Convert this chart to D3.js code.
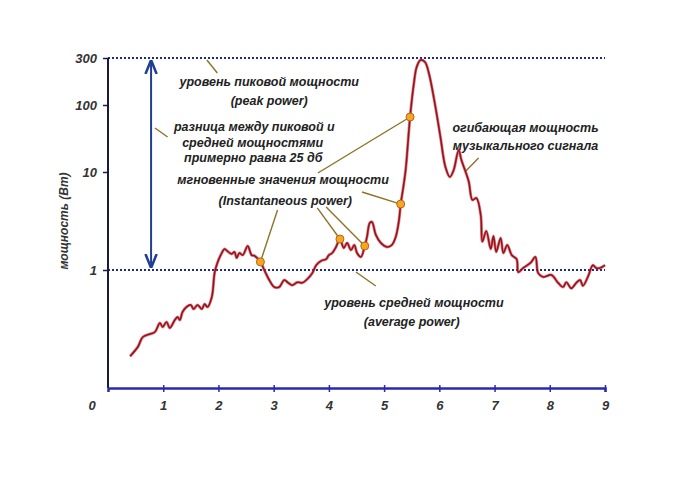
<!DOCTYPE html>
<html><head><meta charset="utf-8">
<script src="https://cdn.jsdelivr.net/npm/d3@7/dist/d3.min.js"></script>
<style>
body{margin:0;background:#fff}
svg{display:block}
text{font-family:"Liberation Sans",Arial,sans-serif;font-style:italic}
</style>
</head><body>
<svg id="c" width="700" height="493"></svg>
<script>
// ---- data ----
const timeVals = [0.40,0.54,0.63,0.76,0.85,0.94,0.99,1.06,1.12,1.21,1.26,1.30,1.35,1.42,1.50,1.55,1.62,1.70,1.75,1.80,1.88,1.93,1.98,2.06,2.11,2.16,2.24,2.29,2.33,2.38,2.44,2.53,2.60,2.65,2.76,2.83,2.92,3.01,3.10,3.19,3.25,3.34,3.43,3.52,3.61,3.70,3.77,3.86,3.95,4.00,4.06,4.13,4.20,4.27,4.33,4.40,4.46,4.51,4.58,4.65,4.69,4.74,4.78,4.85,4.94,5.05,5.14,5.21,5.27,5.30,5.34,5.39,5.47,5.54,5.59,5.66,5.74,5.81,5.93,6.02,6.11,6.19,6.26,6.35,6.40,6.53,6.60,6.67,6.75,6.78,6.85,6.93,6.98,7.03,7.11,7.16,7.23,7.31,7.40,7.43,7.52,7.65,7.74,7.79,7.88,8.03,8.15,8.24,8.30,8.39,8.48,8.55,8.60,8.69,8.78,8.84,8.91,9.00];
const powerVals = [0.132,0.164,0.207,0.222,0.233,0.288,0.262,0.295,0.256,0.309,0.331,0.309,0.373,0.419,0.440,0.400,0.440,0.400,0.450,0.419,0.530,0.932,1.18,1.49,1.64,1.56,1.46,1.53,1.33,1.49,1.42,1.76,1.42,1.40,1.21,1.00,0.79,0.67,0.67,0.79,0.75,0.70,0.75,0.74,0.81,0.93,1.12,1.24,1.29,1.42,1.49,1.72,2.07,1.68,1.89,1.60,1.80,1.49,1.36,1.76,2.17,3.02,3.09,2.28,1.89,1.72,1.80,2.17,3.24,4.71,6.55,10.7,66.2,167,243,286,273,211,93.3,33.3,11.9,8.89,10.7,21.3,15.1,8.09,5.18,5.43,3.64,1.95,2.50,1.64,2.22,1.53,2.12,1.49,1.80,1.42,1.29,0.95,1.05,1.18,1.36,0.93,0.85,0.89,0.74,0.67,0.75,0.65,0.74,0.79,0.69,0.85,1.12,1.05,1.05,1.12];
const instantX = [2.76,4.20,4.65,5.30,5.47];
const instantY = [1.21,2.07,1.76,4.71,66.2];
const xTicks = [1,2,3,4,5,6,7,8,9];
const yTicks = [1,10,100,300];
const peakLevel = 300, avgLevel = 1;

const labels = [
  {t:"уровень пиковой мощности", x:2.92, y:171},
  {t:"(peak power)", x:2.92, y:112},
  {t:"разница между пиковой и", x:2.65, y:47},
  {t:"средней мощностями", x:2.62, y:27.1},
  {t:"примерно равна 25 дб", x:2.63, y:16.2},
  {t:"мгновенные значения мощности", x:3.17, y:8.3},
  {t:"(Instantaneous power)", x:3.21, y:5.06},
  {t:"огибающая мощность", x:7.56, y:45.4},
  {t:"музыкального сигнала", x:7.56, y:24.4},
  {t:"уровень средней мощности", x:5.54, y:0.46},
  {t:"(average power)", x:5.50, y:0.295}
];
const leaders = [
  [[1.79,286],[1.98,211]],
  [[0.85,45.4],[1.08,33.3]],
  [[3.80,9.77],[5.47,66.2]],
  [[4.60,6.25],[5.30,4.71]],
  [[3.07,4.09],[2.76,1.21]],
  [[3.79,4.30],[4.20,2.07]],
  [[3.95,4.39],[4.65,1.76]],
  [[6.71,16.2],[6.48,10.35]],
  [[4.49,0.954],[4.85,0.687]]
];

// ---- scales ----
const x = d3.scaleLinear().domain([0,9]).range([108,605]);
const y = d3.scaleLog().domain([0.0625,1,10,100,300]).range([388,270,172,105,58]);

const svg = d3.select("#c");
const defs = svg.append("defs");
defs.append("marker").attr("id","ah").attr("viewBox","0 0 10 10").attr("refX",10).attr("refY",5)
  .attr("markerWidth",7).attr("markerHeight",7).attr("orient","auto-start-reverse")
  .append("path").attr("d","M0,1 L10,5 L0,9").attr("fill","none").attr("stroke","#1f3d99").attr("stroke-width",1.8);

// reference dotted lines
[peakLevel, avgLevel].forEach(v=>{
  svg.append("line").attr("x1",x(0)).attr("x2",x(9)).attr("y1",y(v)).attr("y2",y(v))
    .attr("stroke","#1c2a8c").attr("stroke-width",2.2).attr("stroke-dasharray","2,2");
});

// y axis
const ya = svg.append("g").attr("transform",`translate(${x(0)},0)`)
  .call(d3.axisLeft(y).tickValues(yTicks).tickFormat(d3.format("d")).tickSize(5).tickPadding(6));
ya.select(".domain").remove();
ya.selectAll(".tick line").attr("stroke","#1a1a50").attr("stroke-width",1.5);
ya.selectAll(".tick text").attr("font-size",13).attr("font-weight","bold").attr("fill","#333")
  .style("font-family","'Liberation Sans',Arial,sans-serif").style("font-style","italic");
svg.append("line").attr("x1",x(0)).attr("x2",x(0)).attr("y1",y(300)).attr("y2",y.range()[0])
  .attr("stroke","#1a1a40").attr("stroke-width",2);

// x axis
const xa = svg.append("g").attr("transform",`translate(0,${y.range()[0]})`)
  .call(d3.axisBottom(x).tickValues(xTicks).tickFormat(d3.format("d")).tickSize(4).tickPadding(9));
xa.select(".domain").attr("stroke","#2a2ab0").attr("stroke-width",2.5);
xa.selectAll(".tick line").attr("stroke","#2a2ab0").attr("stroke-width",1.5).attr("y1",-3);
xa.selectAll(".tick text").attr("font-size",13).attr("font-weight","bold").attr("fill","#333")
  .style("font-family","'Liberation Sans',Arial,sans-serif").style("font-style","italic");
svg.append("text").attr("x",x(0)-16).attr("y",y.range()[0]+22).attr("text-anchor","middle")
  .attr("font-size",13).attr("font-weight","bold").attr("fill","#333").text("0");

// y label
svg.append("text").attr("transform",`translate(68,221) rotate(-90)`).attr("text-anchor","middle")
  .attr("font-size",12).attr("font-weight","bold").attr("fill","#333").text("мощность (Вт)");

// double arrow
svg.append("line").attr("x1",x(0.78)).attr("x2",x(0.78)).attr("y1",y(peakLevel)+2).attr("y2",y(avgLevel)-2)
  .attr("stroke","#1f3d99").attr("stroke-width",2)
  .attr("marker-start","url(#ah)").attr("marker-end","url(#ah)");

// leader lines
svg.append("g").selectAll("line").data(leaders).join("line")
  .attr("x1",d=>x(d[0][0])).attr("y1",d=>y(d[0][1]))
  .attr("x2",d=>x(d[1][0])).attr("y2",d=>y(d[1][1]))
  .attr("stroke","#8c7325").attr("stroke-width",1.4);

// curve
const data = timeVals.map((t,i)=>[t,powerVals[i]]);
const line = d3.line().x(d=>x(d[0])).y(d=>y(d[1])).curve(d3.curveCatmullRom.alpha(0.5));
svg.append("path").datum(data).attr("d",line).attr("fill","none")
  .attr("stroke","#e0303a").attr("stroke-width",3).attr("stroke-opacity",0.6);
svg.append("path").datum(data).attr("d",line).attr("fill","none")
  .attr("stroke","#8e1620").attr("stroke-width",1.6);

// instantaneous points
svg.append("g").selectAll("circle").data(instantX).join("circle")
  .attr("cx",d=>x(d)).attr("cy",(d,i)=>y(instantY[i])).attr("r",4)
  .attr("fill","#f4a820").attr("stroke","#b5651d").attr("stroke-width",1);

// annotation texts
svg.append("g").selectAll("text").data(labels).join("text")
  .attr("x",d=>x(d.x)).attr("y",d=>y(d.y)).attr("dy","0.35em").attr("text-anchor","middle")
  .attr("font-size",12.5).attr("fill","#222").attr("font-weight","bold").text(d=>d.t);
</script>
</body></html>
